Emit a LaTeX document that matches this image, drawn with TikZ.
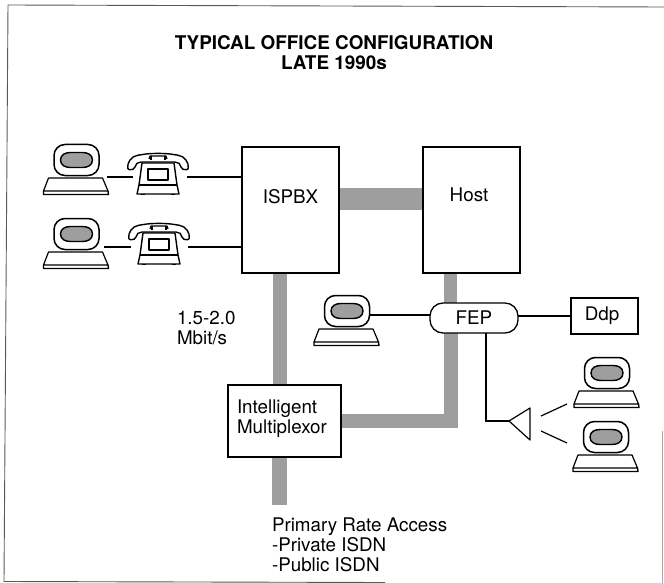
\documentclass[tikz,border=0pt]{standalone}
\usepackage{fontspec}
\usetikzlibrary{backgrounds}
\setmainfont{TeX Gyre Heros}
\begin{document}
\begin{tikzpicture}[x=1pt,y=-1pt,
  every node/.style={inner sep=0pt,outer sep=0pt},
  txt/.style={font=\fontsize{18.8}{20}\selectfont,align=left},
  ttl/.style={font=\fontsize{18.9}{20}\bfseries\selectfont,align=center},
  boxn/.style={draw=black,line width=1.3pt,anchor=north west},
  link/.style={draw=black,line width=1.2pt},
  trunk/.style={draw=black!38,line width=14pt},
  framel/.style={draw=black!65,line width=0.9pt},
  termline/.style={draw=black,line width=1.2pt,line join=round},
  terminal/.pic={
    \draw[termline,line width=1.5pt,rounded corners=11pt] (-22.5,-15.5) rectangle (22.5,15.5);
    \draw[termline,line width=1.4pt,fill=black!38] (-16,0)
      .. controls (-16,-5.5) and (-11,-7.5) .. (-6,-7.5) -- (6,-7.5)
      .. controls (11,-7.5) and (16,-5.5) .. (16,0)
      .. controls (16,5.5) and (11,7.5) .. (6,7.5) -- (-6,7.5)
      .. controls (-11,7.5) and (-16,5.5) .. (-16,0) -- cycle;
    \draw[termline] (-28,18) -- (26,18) -- (31.5,31) -- (-33,31) -- cycle;
    \draw[termline,line width=1.4pt] (-33,31) -- (-33,34.5) -- (32,34.5) -- (31.5,31);
  },
  telephone/.pic={
    % handset
    \draw[termline,line width=1.4pt,fill=white,rounded corners=2pt]
      (-30,10) .. controls (-31,3) and (-27,-4) .. (-18,-5)
      .. controls (-8,-7) and (8,-7) .. (18,-5)
      .. controls (27,-4) and (31,3) .. (30,10)
      -- (23,9) .. controls (23,4) and (20,2) .. (15,2)
      -- (-15,2) .. controls (-20,2) and (-23,4) .. (-23,9) -- cycle;
    % cradle
    \draw[termline] (-9,-1) -- (-8,-4) -- (8,-4) -- (9,-1);
    \draw[termline] (-7,-4) -- (-7,0) (7,-4) -- (7,0);
    % body
    \draw[termline,line width=1.4pt,fill=white] (-16,3) -- (16,3) -- (19,25) -- (21,34) -- (-21,34) -- (-19,25) -- cycle;
    \draw[termline] (-19,25) -- (19,25);
    \draw[termline,fill=white] (-10,9) rectangle (10,20);
    \draw[line width=1.6pt] (-17,34.5) -- (-13,34.5) (13,34.5) -- (17,34.5);
  }]
\useasboundingbox (0,0) rectangle (664,583);

% outer frame
\coordinate (ftl) at (8,5);
\coordinate (ftr) at (664,7);
\coordinate (fbl) at (4,581.5);
\coordinate (fbm) at (385,582.5);
\coordinate (frt) at (662.5,431);
\coordinate (frb) at (662.5,583);
\draw[framel] (ftr) -- (ftl) -- (fbl) -- (fbm);
\draw[draw=black!35,line width=0.9pt] (frt) -- (frb);

% title
\node[ttl] (title) at (334,52.5) {TYPICAL OFFICE CONFIGURATION\\LATE 1990s};

% boxes
\node[boxn,minimum width=97pt,minimum height=126pt] (ispbx) at (242,147) {};
\node[txt] (ispbxl) at (290.5,197) {ISPBX};
\node[boxn,minimum width=97pt,minimum height=126pt] (host) at (423,147) {};
\node[txt] (hostl) at (469,195) {Host};
\node[boxn,minimum width=113pt,minimum height=72pt] (mux) at (228,385) {};
\node[txt,anchor=west] (muxl) at (237,419) {Intelligent\\Multiplexor};
\node[draw=black,line width=1.3pt,rounded corners=13pt,minimum width=88pt,minimum height=30pt,font=\fontsize{18.8}{20}\selectfont] (fep) at (474,318) {FEP};
\node[boxn,minimum width=67pt,minimum height=36pt] (ddp) at (571,298) {};
\node[txt] (ddpl) at (602,316) {Ddp};

\coordinate (pra) at (279,505);

% trunks
\begin{scope}[on background layer]
\draw[trunk,line width=22pt] (ispbx.east |- 0,199) -- (host.west |- 0,199);
\draw[trunk] (ispbx.south -| 280,0) -- (mux.north -| 280,0);
\draw[trunk,line width=15pt] (mux.south -| 279,0) -- (pra);
\draw[trunk,line width=13pt] (host.south -| 450,0) -- (fep.north -| 450,0);
\draw[trunk,line cap=butt,line join=miter] (fep.south -| 451,0) -- (451,421) -- (mux.east |- 0,421);
\end{scope}

% terminals
\pic (t1) at (76.5,160) {terminal};
\pic (t2) at (76.5,234) {terminal};
\pic (t3) at (347,311) {terminal};
\pic (t4) at (607,373) {terminal};
\pic (t5) at (606,437) {terminal};

% telephones
\pic (p1) at (158,160) {telephone};
\pic (p2) at (159,230) {telephone};

% connectors
\coordinate (a1) at (107,177);
\coordinate (b1) at (133,177);
\coordinate (c1) at (187,177);
\coordinate (a2) at (104,247);
\coordinate (b2) at (131,247);
\coordinate (c2) at (188,247);
\coordinate (t3e) at (369.5,315);
\draw[link] (a1) -- (b1);
\draw[link] (c1) -- (ispbx.west |- c1);
\draw[link] (a2) -- (b2);
\draw[link] (c2) -- (ispbx.west |- c2);
\draw[link] (t3e) -- (fep.west |- t3e);
\draw[link] (fep.east |- 0,316) -- (ddp.west |- 0,316);

% amplifier
\coordinate (amp) at (509,421);
\coordinate (ampt) at (530,408);
\coordinate (ampb) at (530,440);
\draw[link] (fep.south -| 486,0) -- (486,421) -- (amp);
\draw[termline] (amp) -- (ampt) -- (ampb) -- cycle;
\coordinate (s1) at (541,416);
\coordinate (e1) at (567,404);
\coordinate (s2) at (541,431);
\coordinate (e2) at (567,443);
\draw[link] (s1) -- (e1);
\draw[link] (s2) -- (e2);

% labels
\node[txt,anchor=north west] (rate) at (177,311) {1.5-2.0\\Mbit/s};
\node[txt,anchor=north west] (access) at (272,518) {Primary Rate Access\\-Private ISDN\\-Public ISDN};
\end{tikzpicture}
\end{document}
